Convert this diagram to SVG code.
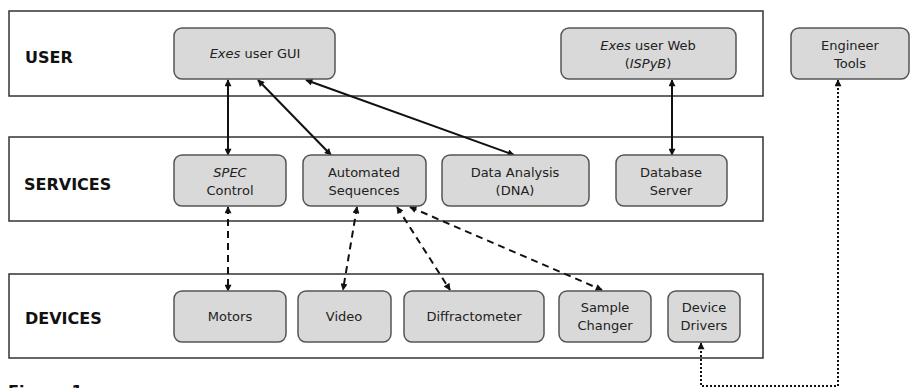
<svg xmlns="http://www.w3.org/2000/svg" width="911" height="388" viewBox="0 0 911 388">
<defs>
<marker id="ah" viewBox="0 0 10 10" refX="9" refY="5" markerWidth="8" markerHeight="7" markerUnits="userSpaceOnUse" orient="auto-start-reverse">
<path d="M0,0 L10,5 L0,10 z" fill="#111"/>
</marker>
<style>
.band{fill:#fff;stroke:#333;stroke-width:1.5}
.node rect{fill:#d9d9d9;stroke:#555;stroke-width:1.5}
.node text{font-family:"DejaVu Sans","Liberation Sans",sans-serif;font-size:13px;fill:#222;text-anchor:middle}
.lbl{font-family:"DejaVu Sans","Liberation Sans",sans-serif;font-size:16px;font-weight:bold;fill:#111}
.solid{stroke:#111;stroke-width:2;fill:none;marker-start:url(#ah);marker-end:url(#ah)}
.dash{stroke:#111;stroke-width:2;fill:none;stroke-dasharray:7,5;marker-start:url(#ah);marker-end:url(#ah)}
.dot{stroke:#111;stroke-width:2;fill:none;stroke-dasharray:2,2;marker-start:url(#ah);marker-end:url(#ah)}
</style>
</defs>
<rect width="911" height="388" fill="#fff"/>
<g id="bands">
<rect class="band" x="9" y="11" width="754" height="85"/>
<rect class="band" x="9" y="137" width="754" height="84"/>
<rect class="band" x="9" y="274" width="754" height="84"/>
<text class="lbl" x="25" y="63">USER</text>
<text class="lbl" x="24" y="190">SERVICES</text>
<text class="lbl" x="25" y="324">DEVICES</text>
<text class="lbl" x="8" y="397">Figure 1</text>
</g>
<g id="connectors">
<line class="solid" x1="228" y1="80" x2="228" y2="155"/>
<line class="solid" x1="258" y1="80" x2="331" y2="155"/>
<line class="solid" x1="306" y1="80" x2="514" y2="155"/>
<line class="solid" x1="672" y1="80" x2="672" y2="155"/>
<line class="dash" x1="228" y1="207" x2="228" y2="291"/>
<line class="dash" x1="357" y1="207" x2="343" y2="290"/>
<line class="dash" x1="397" y1="207" x2="450" y2="290"/>
<line class="dash" x1="410" y1="207" x2="602" y2="290"/>
<polyline class="dot" points="838,80 838,386 701,386 701,343"/>
</g>
<g id="gui" class="node"><rect x="174" y="28" width="161" height="51" rx="8"/><text x="255" y="58"><tspan font-style="italic">Exes</tspan> user GUI</text></g>
<g id="web" class="node"><rect x="561" y="28" width="175" height="51" rx="8"/><text x="648" y="50"><tspan font-style="italic">Exes</tspan> user Web</text><text x="648" y="68">(<tspan font-style="italic">ISPyB</tspan>)</text></g>
<g id="eng" class="node"><rect x="791" y="28" width="118" height="51" rx="8"/><text x="850" y="50">Engineer</text><text x="850" y="68">Tools</text></g>
<g id="spec" class="node"><rect x="174" y="155" width="112" height="51" rx="8"/><text x="230" y="177" font-style="italic">SPEC</text><text x="230" y="195">Control</text></g>
<g id="auto" class="node"><rect x="303" y="155" width="123" height="51" rx="8"/><text x="364" y="177">Automated</text><text x="364" y="195">Sequences</text></g>
<g id="dna" class="node"><rect x="442" y="155" width="147" height="51" rx="8"/><text x="515" y="177">Data Analysis</text><text x="515" y="195">(DNA)</text></g>
<g id="db" class="node"><rect x="616" y="155" width="111" height="51" rx="8"/><text x="671" y="177">Database</text><text x="671" y="195">Server</text></g>
<g id="motors" class="node"><rect x="174" y="291" width="112" height="51" rx="8"/><text x="230" y="321">Motors</text></g>
<g id="video" class="node"><rect x="298" y="291" width="93" height="51" rx="8"/><text x="344" y="321">Video</text></g>
<g id="diff" class="node"><rect x="404" y="291" width="140" height="51" rx="8"/><text x="474" y="321">Diffractometer</text></g>
<g id="sample" class="node"><rect x="559" y="291" width="92" height="51" rx="8"/><text x="605" y="312">Sample</text><text x="605" y="330">Changer</text></g>
<g id="drivers" class="node"><rect x="668" y="291" width="72" height="51" rx="8"/><text x="704" y="312">Device</text><text x="704" y="330">Drivers</text></g>
</svg>
